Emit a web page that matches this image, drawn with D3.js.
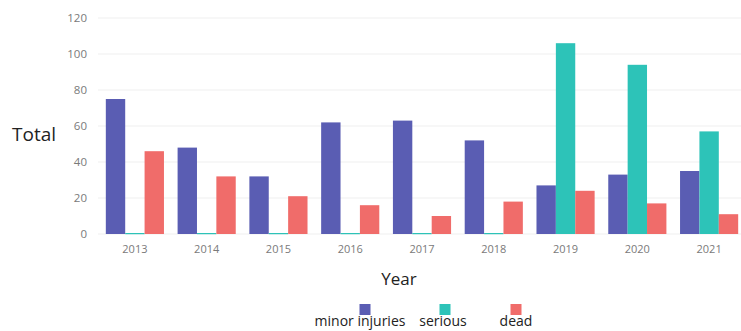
<!DOCTYPE html>
<html>
<head>
<meta charset="utf-8">
<script src="https://cdn.jsdelivr.net/npm/d3@7"></script>
<style>
  body { margin: 0; background: #fff; }
  svg { display: block; font-family: "Open Sans", sans-serif; }
</style>
</head>
<body>
<div id="chart"></div>
<script>
const years = ['2013', '2014', '2015', '2016', '2017', '2018', '2019', '2020', '2021'];
const minorInjuries = [75, 48, 32, 62, 63, 52, 27, 33, 35];
const serious = [0, 0, 0, 0, 0, 0, 106, 94, 57];
const dead = [46, 32, 21, 16, 10, 18, 24, 17, 11];
const seriesNames = ['minor injuries', 'serious', 'dead'];
const yTicks = [0, 20, 40, 60, 80, 100, 120];

const colors = ['#5a5db3', '#2dc3b8', '#f06c6a'];
const width = 741, height = 331;
const margin = { top: 18, right: -4, bottom: 97, left: 99 };

const svg = d3.select('#chart').append('svg')
    .attr('width', width)
    .attr('height', height);

const chart = svg.append('g')
    .attr('transform', `translate(${margin.left}, ${margin.top})`);

const innerW = width - margin.left - margin.right;
const innerH = height - margin.top - margin.bottom;

const x = d3.scaleBand()
    .domain(years)
    .range([0, innerW])
    .paddingInner(0.19)
    .paddingOuter(0.095);

const xSub = d3.scaleBand()
    .domain(seriesNames)
    .range([0, x.bandwidth()]);

const y = d3.scaleLinear()
    .domain([0, 120])
    .range([innerH, 0]);

// gridlines
chart.append('g')
    .selectAll('line')
    .data(yTicks)
    .join('line')
    .attr('x1', -1)
    .attr('x2', innerW)
    .attr('y1', d => y(d))
    .attr('y2', d => y(d))
    .attr('stroke', '#efefef')
    .attr('stroke-width', 1);

// y tick labels
const yAxis = chart.append('g')
    .call(d3.axisLeft(y).tickValues(yTicks).tickSize(0).tickPadding(12));
yAxis.select('.domain').remove();
yAxis.selectAll('text')
    .attr('fill', '#7a7a7a')
    .attr('font-size', 11.5)
    .attr('font-family', '"Open Sans", sans-serif');

// x tick labels
const xAxis = chart.append('g')
    .attr('transform', `translate(0, ${innerH})`)
    .call(d3.axisBottom(x).tickSize(0).tickPadding(11));
xAxis.select('.domain').remove();
xAxis.selectAll('text')
    .attr('fill', '#7a7a7a')
    .attr('font-size', 11)
    .attr('font-family', '"Open Sans", sans-serif');

// bars
const seriesData = [minorInjuries, serious, dead];
const rows = [];
years.forEach((yr, i) => {
    seriesNames.forEach((name, j) => {
        rows.push({ year: yr, key: name, value: seriesData[j][i], color: colors[j] });
    });
});

chart.append('g')
    .selectAll('rect')
    .data(rows)
    .join('rect')
    .attr('x', d => x(d.year) + xSub(d.key))
    .attr('width', xSub.bandwidth())
    .attr('y', d => d.value > 0 ? y(d.value) : innerH - 1)
    .attr('height', d => d.value > 0 ? innerH - y(d.value) : 1.2)
    .attr('fill', d => d.color);

// axis titles
svg.append('text')
    .attr('x', 12)
    .attr('y', 141)
    .attr('font-size', 19)
    .attr('fill', '#222')
    .text('Total');

svg.append('text')
    .attr('x', 399)
    .attr('y', 285)
    .attr('text-anchor', 'middle')
    .attr('font-size', 17)
    .attr('fill', '#222')
    .text('Year');

// legend
const legendX = [365, 445, 516];
const legendLabelX = [360, 443, 516];
const legend = svg.append('g');
seriesNames.forEach((name, i) => {
    legend.append('rect')
        .attr('x', legendX[i] - 5.5)
        .attr('y', 304)
        .attr('width', 11)
        .attr('height', 11)
        .attr('fill', colors[i]);
    legend.append('text')
        .attr('x', legendLabelX[i])
        .attr('y', 326)
        .attr('text-anchor', 'middle')
        .attr('font-size', 14)
        .attr('fill', '#222')
        .text(name);
});
</script>
</body>
</html>
